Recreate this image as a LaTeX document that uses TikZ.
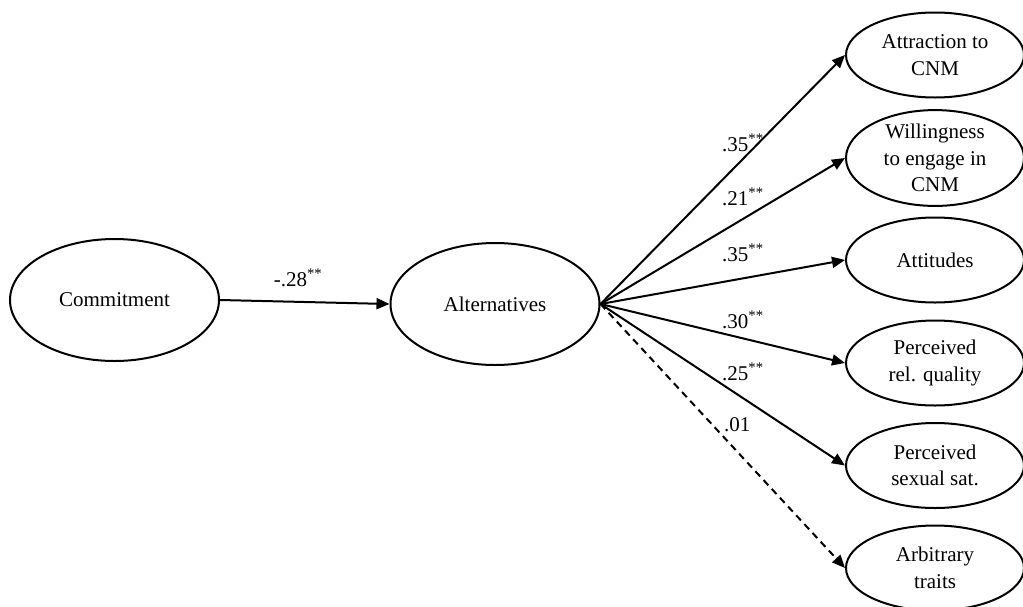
\documentclass[tikz,border=0pt]{standalone}
\usepackage{fontspec}
\setmainfont{Liberation Serif}
\usetikzlibrary{shapes.geometric,arrows.meta}

\begin{document}
\begin{tikzpicture}[x=1pt,y=-1pt,
  every node/.style={font=\fontsize{21}{26.5}\selectfont},
  latent/.style={draw, ellipse, line width=2pt, inner sep=0pt, align=center},
  bigvar/.style={latent, minimum width=209pt, minimum height=122pt},
  outvar/.style={latent, minimum width=178pt, minimum height=85pt},
  path/.style={line width=2pt, -{Triangle[length=13pt,width=11pt]}},
  weak/.style={path, dash pattern=on 7pt off 5pt},
  coef/.style={anchor=west, inner sep=0pt}]

\useasboundingbox (0,0) rectangle (1023,606);

% predictor and mediator
\node[bigvar] (com) at (114.5,300) {Commitment};
\node[bigvar] (alt) at (495,304) {Alternatives};

% outcomes
\node[outvar] (o1) at (935,55)    {Attraction to\\CNM};
\node[outvar] (o2) at (935,158)   {Willingness\\to engage in\\CNM};
\node[outvar] (o3) at (935,260)   {Attitudes};
\node[outvar] (o4) at (935,363)   {Perceived\\rel. quality};
\node[outvar] (o5) at (935,465.5) {Perceived\\sexual sat.};
\node[outvar] (o6) at (935,568)   {Arbitrary\\traits};

% paths
\draw[path] (com.east) -- (alt.west);
\draw[path] (alt.east) -- (o1.west);
\draw[path] (alt.east) -- (o2.west);
\draw[path] (alt.east) -- (o3.west);
\draw[path] (alt.east) -- (o4.west);
\draw[path] (alt.east) -- (o5.west);
\draw[weak] (alt.east) -- (o6.west);

% coefficients
\node[inner sep=0pt] (c0) at (298,278) {-.28\textsuperscript{**}};
\node[coef] (c1) at (722,143) {.35\textsuperscript{**}};
\node[coef] (c2) at (722,197) {.21\textsuperscript{**}};
\node[coef] (c3) at (722,253) {.35\textsuperscript{**}};
\node[coef] (c4) at (722,320) {.30\textsuperscript{**}};
\node[coef] (c5) at (722,372) {.25\textsuperscript{**}};
\node[coef] (c6) at (724,425) {.01};
\end{tikzpicture}
\end{document}
